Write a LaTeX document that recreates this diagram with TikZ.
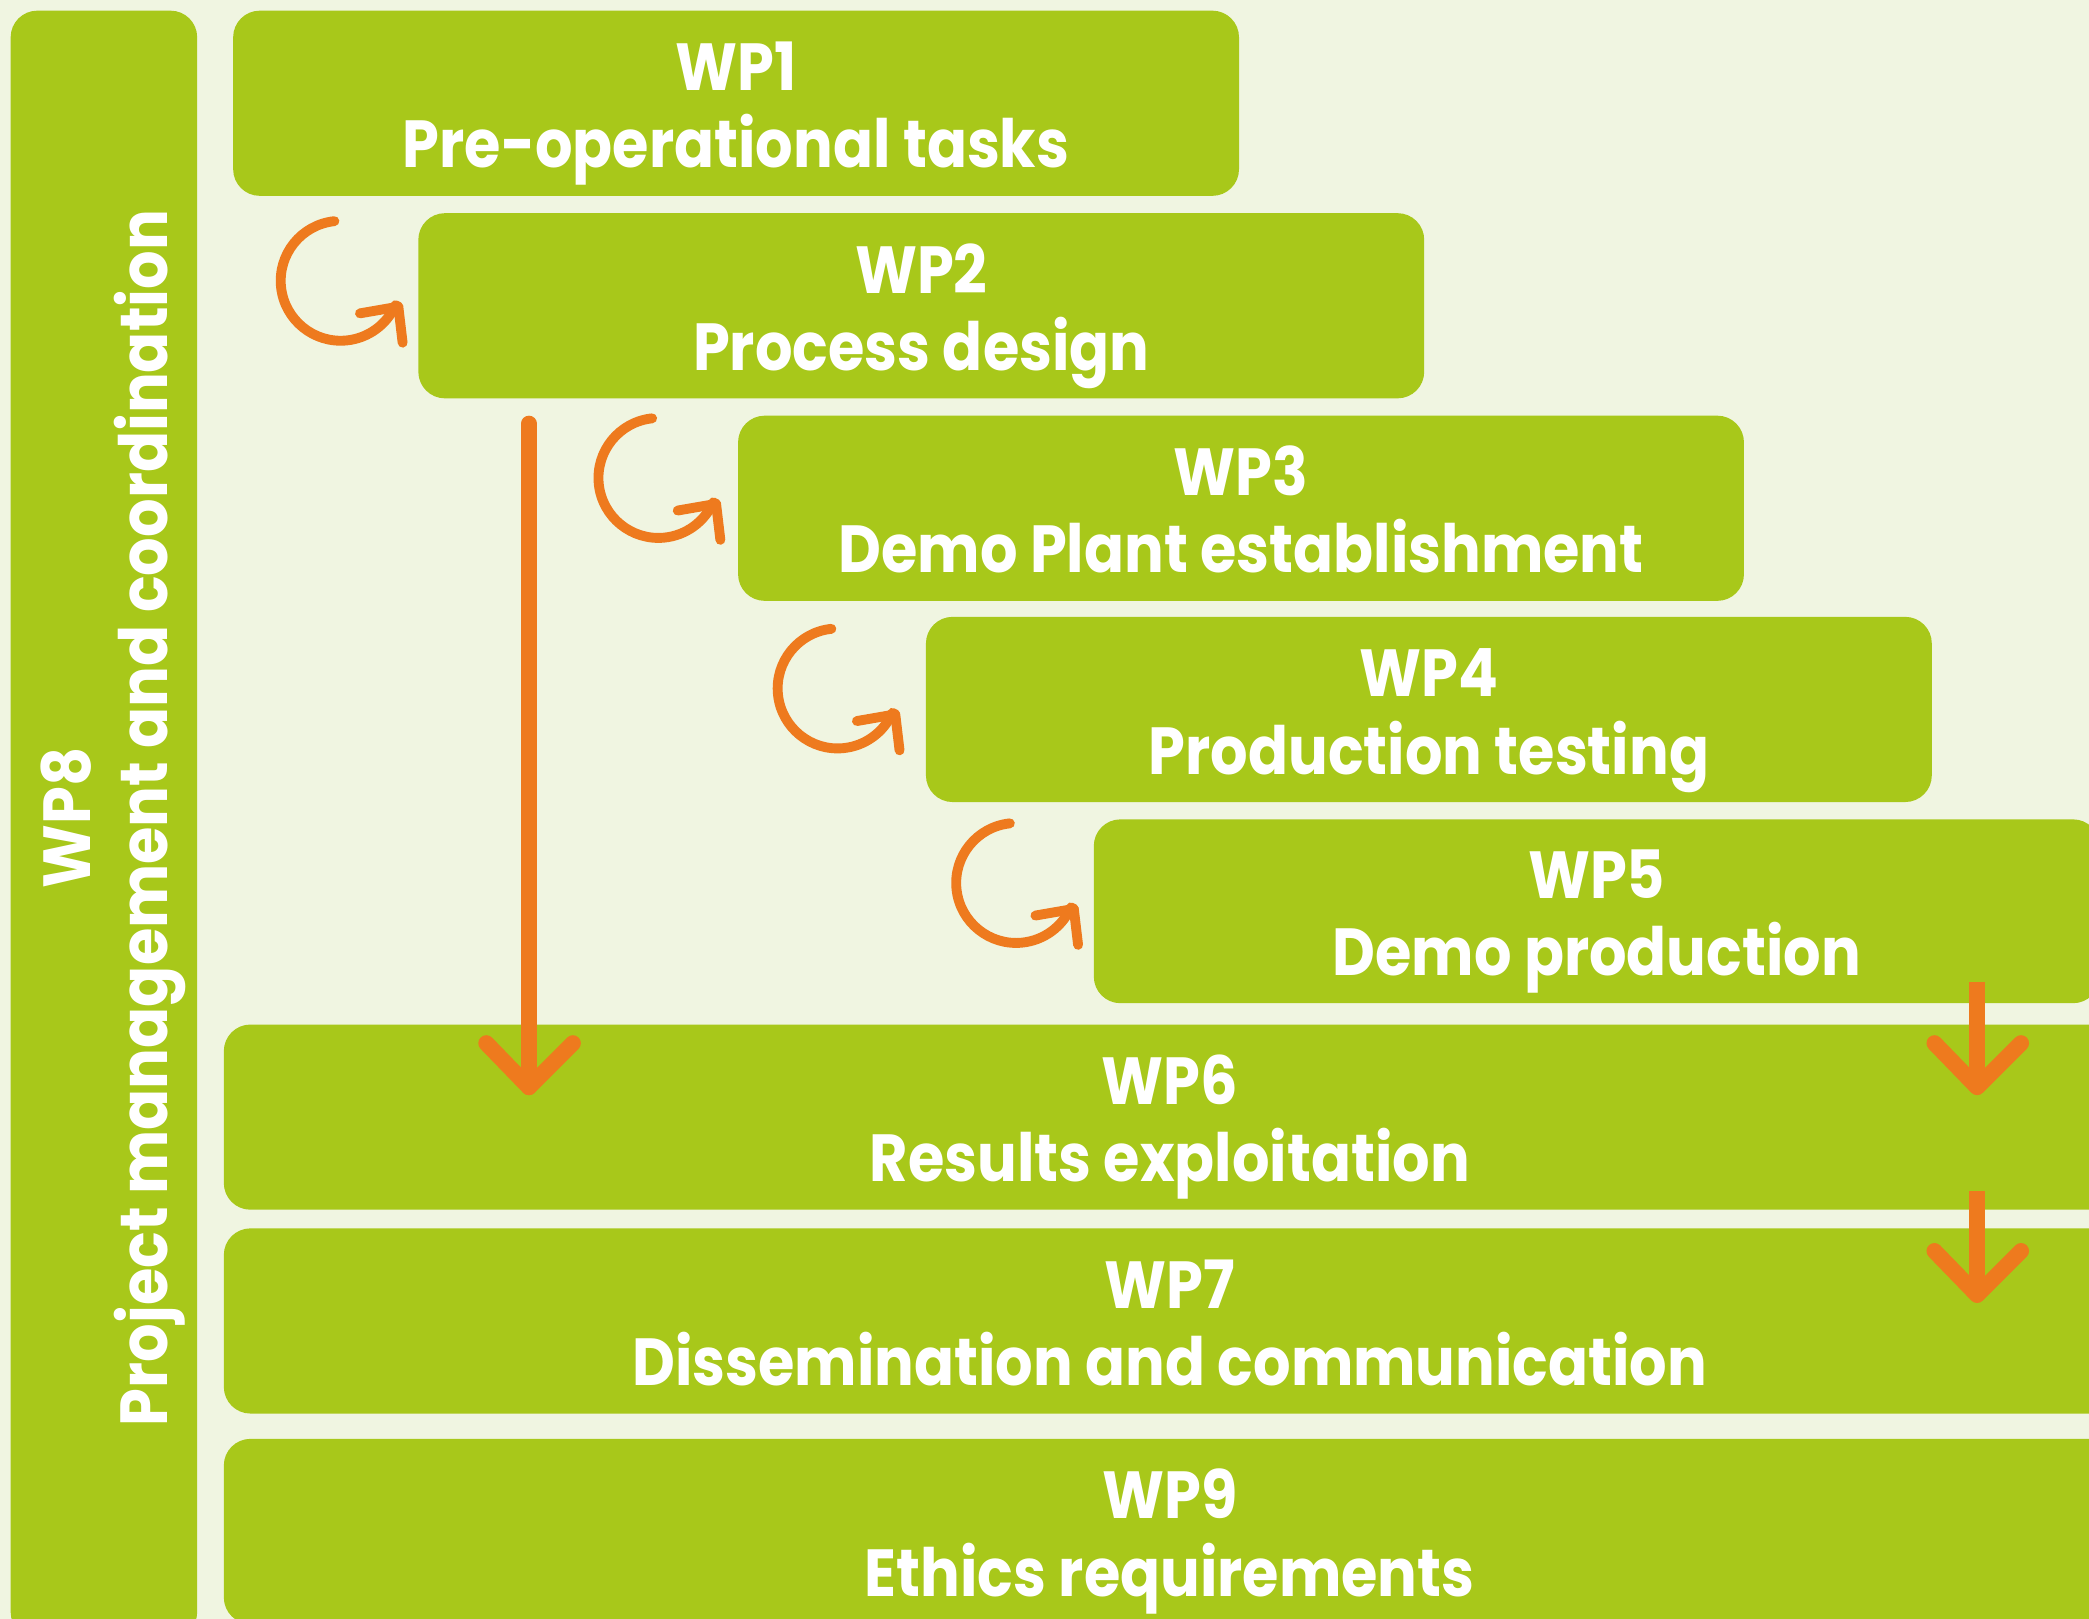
\documentclass[tikz,border=0pt]{standalone}
\usepackage{graphicx}
\usepackage{fontspec}
\setmainfont{Poppins}
\usetikzlibrary{fit}
\definecolor{bgc}{RGB}{240,245,225}
\definecolor{wpgreen}{RGB}{168,200,26}
\definecolor{arrowc}{RGB}{238,122,30}
\newcommand{\wptext}[3][0.885]{\scalebox{#1}[1]{\begin{tabular}[t]{@{}c@{}}#2\\#3\end{tabular}}}
\tikzset{
  wpbox/.style={rectangle, fill=wpgreen, draw=none, rounded corners=10pt, inner sep=0pt},
  wplabel/.style={text=white, font=\fontsize{25}{29}\selectfont\bfseries, inner sep=0pt, anchor=base},
  thinarrow/.style={draw=arrowc, line width=3.7pt, line cap=round, line join=round},
  thickarrow/.style={draw=arrowc, line width=6pt, line join=round},
  cycarrow/.pic={
    \draw[thinarrow] (251,166) arc[start angle=-96, end angle=-336, radius=45] -- (299,230.2);
    \draw[thinarrow] (270.2,235.2) -- (299,230.2) -- (302.2,257.2);
  }
}
\begin{document}
\begin{tikzpicture}[x=0.5pt,y=-0.5pt]
\useasboundingbox (0,0) rectangle (1568,1215.2);
\clip (0,0) rectangle (1568,1215.2);
\fill[bgc] (0,0) rectangle (1568,1215.2);

% boxes
\node[wpbox, fit={(8,8) (148,1230)}] (wp8) {};
\node[wpbox, fit={(175,8) (930,147)}] (wp1) {};
\node[wpbox, fit={(314,160) (1069,299)}] (wp2) {};
\node[wpbox, fit={(554,312) (1309,451)}] (wp3) {};
\node[wpbox, fit={(695,463) (1450,602)}] (wp4) {};
\node[wpbox, fit={(821,615) (1576,753)}] (wp5) {};
\node[wpbox, fit={(168,769) (1588,908)}] (wp6) {};
\node[wpbox, fit={(168,922) (1588,1061)}] (wp7) {};
\node[wpbox, fit={(168,1080) (1588,1219)}] (wp9) {};

% labels
\node[wplabel] (wp1t) at ([yshift=4.75pt]wp1.center) {\wptext{WP1}{Pre-operational tasks}};
\node[wplabel] (wp2t) at ([yshift=4.75pt]wp2.center) {\wptext{WP2}{Process design}};
\node[wplabel] (wp3t) at ([yshift=4.75pt]wp3.center) {\wptext{WP3}{Demo Plant establishment}};
\node[wplabel] (wp4t) at ([yshift=4.75pt]wp4.center) {\wptext{WP4}{Production testing}};
\node[wplabel] (wp5t) at ([yshift=4.75pt]wp5.center) {\wptext{WP5}{Demo production}};
\node[wplabel] (wp6t) at ([yshift=4.75pt]wp6.center) {\wptext{WP6}{Results exploitation}};
\node[wplabel] (wp7t) at ([yshift=4.75pt]wp7.center) {\wptext{WP7}{Dissemination and communication}};
\node[wplabel] (wp9t) at ([yshift=4.75pt]wp9.center) {\wptext{WP9}{Ethics requirements}};
\node[wplabel, rotate=90] (wp8t) at (68,614) {\wptext[0.91]{WP8}{Project management and coordination}};

% cyclic arrows
\pic at (0,0) {cycarrow};
\pic at (238.5,148) {cycarrow};
\pic at (373,306) {cycarrow};
\pic at (507,452) {cycarrow};

% long arrow WP2 -> WP6
\coordinate (vtop) at (397,318);
\coordinate (vtip) at (397,816);
\draw[thickarrow, line cap=round] (vtop) -- (vtip);
\draw[thickarrow, line cap=round] ([shift={(-32,-33)}]vtip) -- (vtip) -- ([shift={(33,-33)}]vtip);

% WP5 -> WP6
\coordinate (r1top) at (1484,737);
\coordinate (r1tip) at (1484,816);
\draw[thickarrow] (r1top) -- (r1tip);
\draw[thickarrow, line cap=round] ([shift={(-32,-33)}]r1tip) -- (r1tip) -- ([shift={(33,-33)}]r1tip);

% WP6 -> WP7
\coordinate (r2top) at (1484,894);
\coordinate (r2tip) at (1484,972);
\draw[thickarrow] (r2top) -- (r2tip);
\draw[thickarrow, line cap=round] ([shift={(-32,-33)}]r2tip) -- (r2tip) -- ([shift={(33,-33)}]r2tip);
\end{tikzpicture}
\end{document}
